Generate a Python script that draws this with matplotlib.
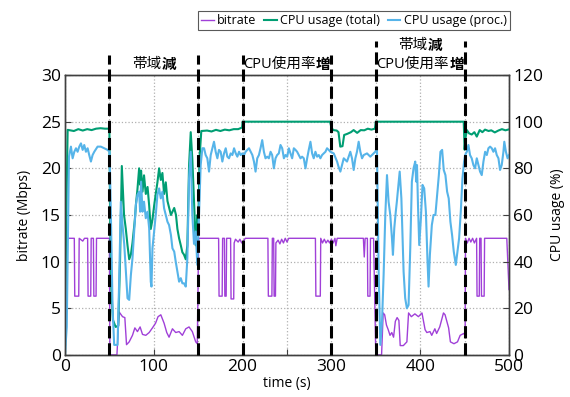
import numpy as np
import matplotlib
matplotlib.use("Agg")
import matplotlib.pyplot as plt
from matplotlib import transforms

plt.rcParams['font.family'] = ['Open Sans', 'Noto Sans CJK JP', 'DejaVu Sans']

# (time [s], bitrate [Mbps])
bitrate = np.array([
    (0, 12.5), (10.5, 12.5), (11, 6.3), (15.5, 6.3), (16, 12.5), (20, 12.2), (22, 12.5), (25.5, 12.5),
    (26, 6.3), (29, 6.3), (29.5, 12.5), (32, 12.5), (32.5, 6.3), (35, 6.3), (35.5, 12.5), (50, 12.5),
    (50.6, 0), (58.5, 0), (61, 4.6), (64.8, 4.1), (67.4, 4.0), (69.3, 1.1), (72.3, 1.4), (76, 2.1),
    (78.7, 2.9), (81.6, 2.5), (84.6, 3.0), (87.3, 2.2), (91, 2.1), (94.8, 2.4), (98.5, 2.9), (102, 3.4),
    (104.8, 4.1), (107.9, 4.3), (111.6, 3.4), (114.6, 2.4), (117.2, 1.9), (121, 2.8), (124.7, 2.4),
    (128.5, 2.5), (132.2, 2.1), (136, 2.8), (139.7, 3.0), (143.4, 2.5), (147.2, 1.4), (149, 1.2),
    (150.5, 12.5), (173, 12.5), (173.5, 6.3), (177, 6.3), (177.5, 12.5), (179.5, 12.5), (180, 6.3),
    (181.5, 6.3), (182, 12.5), (186.5, 12.5),
    (187, 6.0), (190, 6.0), (190.5, 12.0), (192, 12.4), (195, 12.1), (197, 12.4), (199, 12.0),
    (201, 12.2), (203, 12.5), (228.5, 12.5), (229, 6.3), (233, 6.3), (233.5, 12.5), (235, 12.5),
    (235.5, 6.3), (237, 6.3), (237.5, 12.0), (240, 12.3), (242, 11.9), (244, 12.4), (246, 12.0),
    (248, 12.5), (250, 12.1), (252, 12.5), (282, 12.5), (282.5, 6.3), (287.5, 6.3), (288, 12.5),
    (290, 12.0), (292, 12.4), (294, 12.0), (296, 12.3), (298, 12.0), (300, 12.4), (302, 12.0),
    (304, 12.5), (305, 11.7), (306.5, 12.5), (336, 12.5), (337, 10.5), (338, 12.5), (340.5, 12.5),
    (341, 6.3), (343.5, 6.3), (344, 12.5), (347.5, 12.5), (350, 0), (356.5, 0), (358.3, 4.5),
    (360, 4.3), (362, 3.2), (364, 2.7), (366, 2.1), (368, 2.4), (370, 1.9), (372, 3.6), (374, 4.0),
    (376, 3.7), (377.5, 1.0), (381, 1.0), (385, 1.4), (386.9, 4.5), (390, 4.1), (394, 4.4), (398, 4.1),
    (402, 4.5), (405.5, 2.7), (407.5, 2.4), (411, 2.5), (413, 2.1), (416.5, 2.8), (418.5, 2.3),
    (422, 3.0), (426.2, 4.5), (428, 4.3), (432, 2.9), (434, 1.4), (438, 1.2), (442, 1.4), (445, 2.1),
    (449, 2.3), (450.6, 2.1), (451, 12.5), (453, 12.0), (455, 12.5), (457, 12.1), (459, 12.5),
    (461, 12.0), (463.5, 12.5), (464, 6.3), (466.5, 6.3), (467, 12.5), (468.5, 12.5), (469, 6.3),
    (472, 6.3), (472.5, 12.5), (497.5, 12.5), (500, 7.0),
])

# (time [s], CPU usage total [%])
cpu_total = np.array([
    (0, 0), (1.5, 60), (3, 96.5), (10, 96), (15, 96.8), (20, 96.2), (25, 96.8), (30, 96.4), (35, 97),
    (40, 97.2), (45, 97), (50, 97), (50.8, 60), (52, 30), (54, 15), (57, 12), (60, 12.5), (62, 40),
    (64, 81), (66.5, 60), (68.5, 54), (70.4, 47), (72.3, 41), (74.2, 43), (76, 48), (78.7, 58),
    (80, 65), (81.6, 71), (83.5, 80), (84.6, 73), (85.7, 79), (87.3, 70), (89, 77), (91, 69), (93, 72),
    (94.8, 64), (96.6, 54), (98.5, 58), (100.4, 64), (102.2, 69), (104.1, 74), (106, 80), (107.9, 75),
    (109.7, 78), (111.6, 69), (113.5, 74), (115.4, 66), (119.3, 60), (123, 63), (125, 60), (126.6, 54),
    (128.5, 50), (130.4, 47), (132.2, 44), (134, 43), (136, 41), (137.8, 47), (139.7, 81), (141.6, 95.5),
    (143.4, 84), (145.3, 66), (147.2, 47), (149, 60), (150, 54), (151.6, 85), (153.5, 96), (160, 96.2),
    (165, 95.8), (170, 96.5), (175, 96.0), (180, 96.6), (185, 96.3), (190, 96.8), (195, 96.8),
    (199.5, 97.5), (200, 100), (298.5, 100), (300, 97.5), (302, 96.4), (306, 96.2), (308, 95.5),
    (310, 89.3), (312.5, 89.5), (314.4, 94.3), (318, 94.8), (322, 95.5), (325, 96.4), (329, 95.2),
    (333, 96.4), (337, 96.3), (341, 97), (345, 96.6), (349, 97), (350, 100), (449, 100), (450, 88),
    (451, 93), (452.5, 96.4), (455, 95), (458, 94.5), (461, 95.5), (463.7, 93.6), (467, 96.4),
    (470, 95.5), (473, 96.6), (477, 96), (480, 96.3), (484, 95.4), (488, 96.2), (492, 96.8),
    (496, 96.3), (500, 96.7),
])

# (time [s], CPU usage of process [%])
cpu_proc = np.array([
    (0, 0), (2, 12), (4.5, 85), (6.7, 89.3), (8.6, 84.3), (10.5, 87.1), (12.4, 88.6), (14.2, 87.1),
    (16.1, 89.3), (18, 90.7), (19.9, 87.9), (21.7, 90), (23.6, 87.1), (25.5, 88.6), (27.3, 85.7),
    (29.2, 82.9), (31.1, 85.7), (33, 87.1), (36.7, 89.3), (40.4, 89.3), (44.2, 88.6), (48, 87.9),
    (50.2, 87.1), (51.7, 60), (53.6, 20), (55.4, 4.3), (59.2, 4.3), (61, 31.4), (62.9, 65.7),
    (64.8, 55.7), (66.7, 47.6), (68.5, 36.2), (70.4, 24.3), (72.3, 23.6), (74.2, 34.3), (76, 41.4),
    (77.9, 52.9), (79.8, 64.3), (81.6, 68.6), (83.5, 70), (84.6, 61.4), (85.7, 74.3), (87.3, 61.4),
    (89, 65.7), (91, 58.6), (92.9, 61.4), (94.8, 54.3), (96.6, 31.4), (97.4, 29.3), (98.5, 45.7),
    (100.4, 52.9), (102.2, 60), (104.1, 68.6), (106, 71.4), (107.9, 67.1), (109.7, 70), (111.6, 62.9),
    (113.5, 60), (115.4, 57.1), (117.2, 55.7), (119.3, 51.4), (121, 45.7), (123, 44.3), (124.7, 40),
    (126.6, 35.7), (128.5, 31.4), (130.4, 32.9), (132.2, 30.7), (134, 30.7), (136, 29.3), (137.8, 41.4),
    (139.7, 75.7), (141.6, 87.1), (143.4, 60), (145.3, 47.6), (147.2, 52.9), (149, 38.6), (150.9, 60),
    (152.8, 81.4), (154.7, 88.6), (156.6, 88.6), (158.4, 85.7), (160.3, 84.3), (162.2, 78.6),
    (164.1, 85.7), (166, 88.6), (167.8, 91.4), (169.7, 87.1), (171.6, 84.3), (173.4, 87.9),
    (175.3, 87.1), (177.2, 82.9), (179.1, 86.4), (181, 88.6), (182.8, 85), (184.7, 84.3), (186.6, 86.4),
    (188.5, 85.7), (190.4, 88.6), (192.3, 86.4), (194.1, 85), (196, 87.1), (197.8, 85.7), (199.7, 86.4),
    (201.6, 85.7), (203.4, 87.1), (205.3, 87.9), (207.2, 88.6), (209.1, 87.1), (211, 85.7),
    (212.8, 82.9), (214.6, 78.6), (216.5, 84.3), (218.4, 85.7), (220.2, 88.6), (222.1, 92.1),
    (224, 87.1), (225.8, 84.3), (227.7, 85), (229.6, 84.3), (231.5, 87.1), (233.3, 85.7), (235.2, 80),
    (237.1, 84.3), (238.9, 85.7), (240.8, 86.4), (242.7, 90), (244.6, 88.6), (246.5, 84.3),
    (248.3, 85.7), (250.2, 85), (252.1, 88.6), (253.9, 86.4), (255.8, 84.3), (257.7, 88.6),
    (259.6, 87.9), (261.4, 87.1), (263.3, 85.7), (265.2, 84.3), (267, 85), (268.9, 84.3), (270.8, 80),
    (272.7, 84.3), (274.5, 87.9), (276.4, 91.4), (278.3, 86.4), (280.1, 84.3), (282, 87.1), (283.9, 85),
    (285.8, 85.7), (287.6, 84.3), (289.5, 85.7), (291.4, 86.4), (293.3, 87.1), (295.1, 88.6),
    (297, 87.9), (298.9, 87.1), (302.6, 86.4), (306.4, 82.9), (308.2, 80.5), (310.1, 78.6), (312, 81.4),
    (313.9, 84.3), (317.6, 82.9), (321.3, 87.1), (323.2, 84.3), (325.1, 79.3), (327, 84.3),
    (328.8, 87.1), (330.7, 91.4), (332.6, 87.1), (334.5, 84.3), (336.4, 85.7), (340.1, 86.4),
    (343.8, 85), (347.6, 86.4), (349.4, 87.1), (351.3, 88.6), (353.2, 36.2), (355.1, 4.3), (357, 14.3),
    (358.8, 34.3), (360.7, 60), (362.6, 77.1), (364.4, 65.7), (366.3, 60), (368.2, 50), (369.3, 42.9),
    (370.8, 54.3), (372.5, 61.4), (373.7, 65.7), (375.8, 74.3), (376.9, 78.6), (378.8, 67.1),
    (379.9, 52.9), (381.3, 35.7), (383.1, 24.3), (385, 20), (386.9, 21.4), (388.8, 45.7), (390.6, 74.3),
    (392.5, 80), (394.4, 82.9), (395.5, 74.3), (396.4, 81.4), (397.5, 64.3), (398.9, 47.1),
    (400.8, 58.6), (402.6, 72.9), (404.5, 71.4), (406.4, 61.4), (408.2, 40.6), (409.4, 29.3),
    (410.9, 42.9), (413.1, 55.7), (415, 60), (417.1, 60), (419.1, 68.6), (421, 77.1), (422.8, 87.1),
    (424.7, 87.9), (426.5, 79.3), (428.4, 77.1), (430.3, 70), (432.1, 67.1), (434, 57.1), (435.9, 51.4),
    (437.8, 44.3), (440.1, 38.6), (442, 44.3), (443.8, 50), (445.7, 61.4), (447.6, 75.7), (449.4, 82.9),
    (450.6, 85.7), (452.5, 87.1), (454.3, 90), (456.1, 85.7), (458, 84.3), (459.9, 81.4), (461.8, 80),
    (463.7, 84.3), (465.6, 81.4), (467.4, 78.6), (469.3, 77.1), (471.2, 82.9), (473.1, 87.1),
    (475, 85.7), (476.8, 88.6), (478.7, 89.3), (480.6, 88.6), (482.4, 87.1), (484.3, 88.6),
    (486.2, 85.7), (488.1, 84.3), (489.9, 79.3), (491.8, 81.4), (493.7, 87.1), (494.7, 91.4),
    (496.5, 87.1), (498.4, 84.3), (500, 85.7),
])

# phase boundaries (s) and the top of each dashed marker
events = [50, 150, 200, 300, 350, 450]
event_tops = [1.07, 1.07, 1.07, 1.07, 1.12, 1.12]

# annotations: (x center, y in axes coords, normal part, bold part)
notes = [
    (100, 1.010, "帯域", "減"),
    (250, 1.010, "CPU使用率", "増"),
    (400, 1.080, "帯域", "減"),
    (400, 1.010, "CPU使用率", "増"),
]

c_bit = '#a040d8'
c_tot = '#009e73'
c_proc = '#56b4e9'

fig = plt.figure(figsize=(5.7, 3.97), dpi=100)
ax = fig.add_axes([0.114, 0.106, 0.779, 0.705])
ax2 = ax.twinx()

l1, = ax.plot(bitrate[:, 0], bitrate[:, 1], color=c_bit, lw=1.0, label='bitrate')
l2, = ax2.plot(cpu_total[:, 0], cpu_total[:, 1], color=c_tot, lw=1.5, label='CPU usage (total)')
l3, = ax2.plot(cpu_proc[:, 0], cpu_proc[:, 1], color=c_proc, lw=1.5, label='CPU usage (proc.)')

ax.set_xlim(0, 500)
ax.set_ylim(0, 30)
ax2.set_ylim(0, 120)
ax.set_xticks([0, 100, 200, 300, 400, 500])
ax.set_xticks([50, 150, 250, 350, 450], minor=True)
ax.set_yticks(np.arange(0, 31, 5))
ax2.set_yticks(np.arange(0, 121, 20))

ax.grid(True, which='both', axis='x', linestyle=':', color='#b0b0b0', lw=0.9)
ax.grid(True, axis='y', linestyle=':', color='#b0b0b0', lw=0.9)

for a in (ax, ax2):
    a.tick_params(direction='in', labelsize=12.5, length=4, width=0.8, color='#404040', pad=3)
    a.tick_params(which='minor', direction='in', length=4, width=0.8, color='#404040')
    for s in a.spines.values():
        s.set_color('#404040')
        s.set_linewidth(1.0)

ax.set_xlabel('time (s)', fontsize=10, labelpad=1)
ax.set_ylabel('bitrate (Mbps)', fontsize=10, labelpad=6)
ax2.set_ylabel('CPU usage (%)', fontsize=10, labelpad=5)

for x, top in zip(events, event_tops):
    ax2.axvline(x, ymin=0, ymax=top, color='black', lw=2.2,
                linestyle=(0, (4, 1.6)), clip_on=False, zorder=10)

trans = transforms.blended_transform_factory(ax.transData, ax.transAxes)
pairs = []
for x, y, normal, bold in notes:
    t1 = ax.text(x, y, normal, transform=trans, ha='left', va='bottom', fontsize=10.5)
    t2 = ax.annotate(bold, xy=(1, 0), xycoords=t1, ha='left', va='bottom',
                     fontsize=10.5, fontweight='bold')
    pairs.append((t1, t2, trans))

leg = fig.legend(handles=[l1, l2, l3], loc='upper right', ncol=3,
                 bbox_to_anchor=(510 / 570, 1 - 11 / 397), fontsize=9,
                 frameon=True, fancybox=False, edgecolor='#303030',
                 handlelength=1.0, handletextpad=0.3, columnspacing=0.6,
                 borderpad=0.25, borderaxespad=0)
leg.get_frame().set_linewidth(0.8)

# center the mixed-weight labels on their x position
fig.canvas.draw()
r = fig.canvas.get_renderer()
for t1, t2, tr in pairs:
    w = t1.get_window_extent(r).width + t2.get_window_extent(r).width
    t1.set_transform(transforms.offset_copy(tr, fig=fig, x=-w / 2, units='dots'))

fig.savefig('out.png', dpi=100)
